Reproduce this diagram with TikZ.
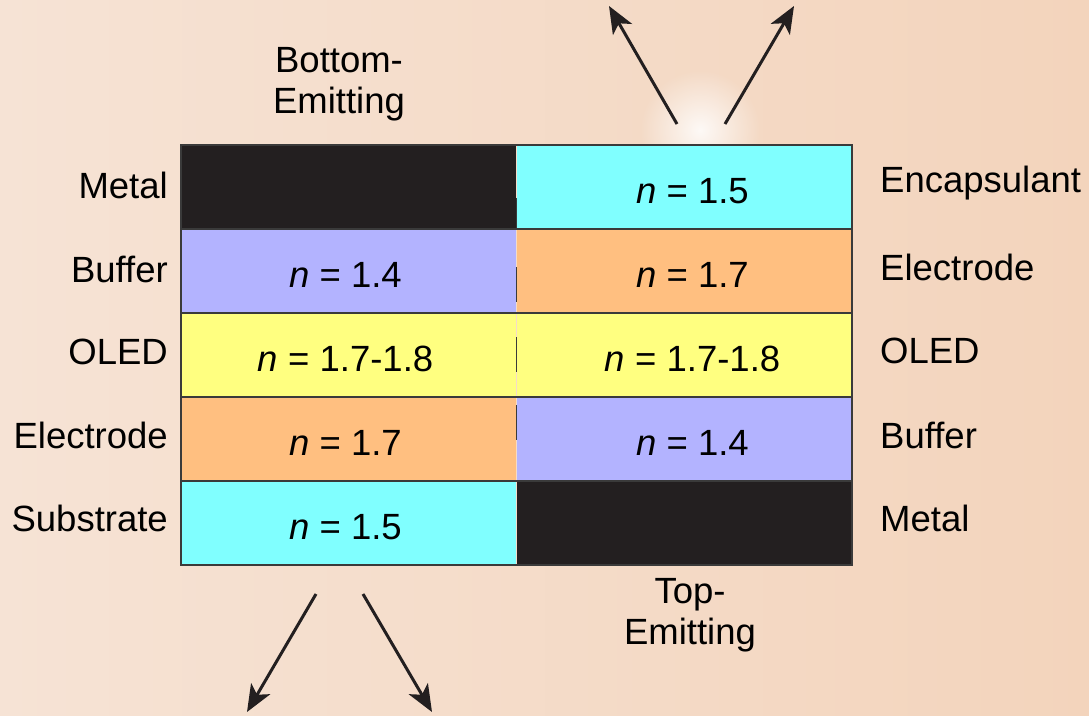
\documentclass[tikz,border=0pt]{standalone}
\usepackage{fontspec}
\setmainfont{Liberation Sans}
\usetikzlibrary{arrows.meta,fadings}

\definecolor{bgleft}{HTML}{F6E3D5}
\definecolor{bgright}{HTML}{F3D4BC}
\definecolor{metal}{HTML}{231F20}
\definecolor{buffer}{HTML}{B3B3FF}
\definecolor{oled}{HTML}{FFFF80}
\definecolor{electrode}{HTML}{FFBF80}
\definecolor{glass}{HTML}{80FFFF}
\definecolor{edge}{HTML}{3A3A3A}

\tikzfading[name=softglow, inner color=transparent!0, outer color=transparent!100]

\tikzset{
  layer/.style={minimum width=335.5pt, minimum height=84pt, inner sep=0pt,
                outer sep=0pt, text height=32pt, text depth=0pt,
                font=\fontsize{36.5}{41}\selectfont},
  leftlayer/.style={layer, execute at begin node={\hspace*{-6pt}}},
  rightlayer/.style={layer, execute at begin node={\hspace*{16pt}}},
  side/.style={font=\fontsize{36.5}{41}\selectfont, inner sep=0pt},
  seam/.style={draw=edge, line width=1.6pt},
  frame/.style={draw=edge, line width=2.2pt},
  ray/.style={line width=3pt, draw=metal,
              -{Stealth[length=27pt,width=22pt,inset=7pt]}},
}

\begin{document}
\begin{tikzpicture}[x=1pt,y=-1pt]
\useasboundingbox (0,0) rectangle (1089,715);

% paper background
\shade[left color=bgleft, right color=bgright] (0,0) rectangle (1089,715);
% soft light where the emitted rays leave the top stack
\fill[white, path fading=softglow, opacity=0.85] (700,130) circle (60);

% bottom-emitting stack (left column)
\node[leftlayer, fill=metal]     (lmetal) at (348.5,187) {};
\node[leftlayer, fill=buffer]    (lbuf)   at (348.5,271) {\textit{n} = 1.4};
\node[leftlayer, fill=oled]      (loled)  at (348.5,355) {\textit{n} = 1.7-1.8};
\node[leftlayer, fill=electrode] (lelec)  at (348.5,439) {\textit{n} = 1.7};
\node[leftlayer, fill=glass]     (lsub)   at (348.5,523) {\textit{n} = 1.5};

% top-emitting stack (right column)
\node[rightlayer, fill=glass]     (renc)   at (684.5,187) {\textit{n} = 1.5};
\node[rightlayer, fill=electrode] (relec)  at (684.5,271) {\textit{n} = 1.7};
\node[rightlayer, fill=oled]      (roled)  at (684.5,355) {\textit{n} = 1.7-1.8};
\node[rightlayer, fill=buffer]    (rbuf)   at (684.5,439) {\textit{n} = 1.4};
\node[rightlayer, fill=metal]     (rmetal) at (684.5,523) {};

% layer boundaries
\draw[seam] (lmetal.south west) -- (renc.south east);
\draw[seam] (lbuf.south west)   -- (relec.south east);
\draw[seam] (loled.south west)  -- (roled.south east);
\draw[seam] (lelec.south west)  -- (rbuf.south east);
% short marks on the column join
\draw[seam] (516.5,198) -- (516.5,228);
\draw[seam] (516.5,267) -- (516.5,302);
\draw[seam] (516.5,337) -- (516.5,372);
\draw[seam] (516.5,405) -- (516.5,440);
% outer frame
\draw[frame] (lmetal.north west) rectangle (rmetal.south east);

% layer names, left
\node[side, anchor=east] (nmetalL) at (168,185) {Metal};
\node[side, anchor=east] (nbufL)   at (168,269) {Buffer};
\node[side, anchor=east] (noledL)  at (168,352) {OLED};
\node[side, anchor=east] (nelecL)  at (168,435) {Electrode};
\node[side, anchor=east] (nsubL)   at (168,518) {Substrate};

% layer names, right
\node[side, anchor=west] (nencR)   at (880,183) {Encapsulant};
\node[side, anchor=west] (nelecR)  at (880,267) {Electrode};
\node[side, anchor=west] (noledR)  at (880,351) {OLED};
\node[side, anchor=west] (nbufR)   at (880,435) {Buffer};
\node[side, anchor=west] (nmetalR) at (880,518) {Metal};

% device type headings
\node[side, align=center] (bottomhead) at (339,84) {Bottom-\\Emitting};
\node[side, align=center] (tophead)    at (690,615) {Top-\\Emitting};

% emitted light rays
\coordinate (upL0) at (677,124);  \coordinate (upL1) at (609,6);
\coordinate (upR0) at (725,124);  \coordinate (upR1) at (794,6);
\coordinate (dnL0) at (316,594);  \coordinate (dnL1) at (247,712);
\coordinate (dnR0) at (363,594);  \coordinate (dnR1) at (432,712);
\draw[ray] (upL0) -- (upL1);
\draw[ray] (upR0) -- (upR1);
\draw[ray] (dnL0) -- (dnL1);
\draw[ray] (dnR0) -- (dnR1);
\end{tikzpicture}
\end{document}
